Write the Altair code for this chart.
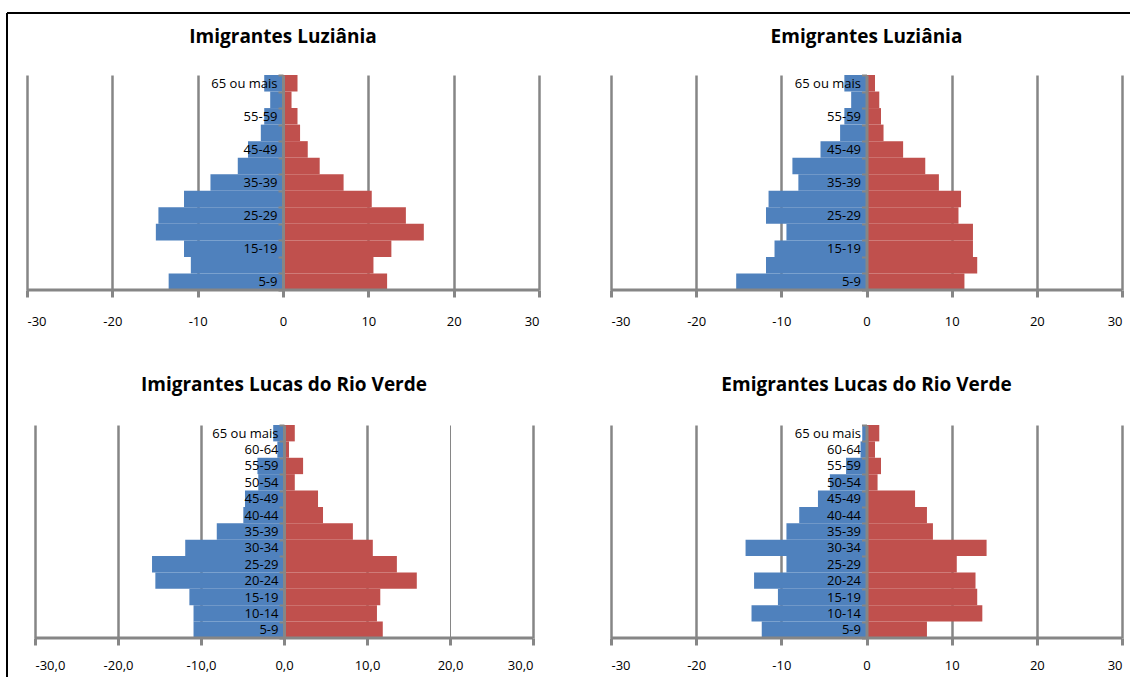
import altair as alt
import pandas as pd

ages = ["5-9", "10-14", "15-19", "20-24", "25-29", "30-34", "35-39",
        "40-44", "45-49", "50-54", "55-59", "60-64", "65 ou mais"]

imig_luz_blue = [-13.4, -10.8, -11.6, -14.9, -14.6, -11.6, -8.5, -5.3, -4.1, -2.6, -2.2, -1.5, -2.2]
imig_luz_red = [12.2, 10.6, 12.7, 16.5, 14.4, 10.4, 7.1, 4.3, 2.9, 2.0, 1.7, 1.0, 1.7]
emig_luz_blue = [-15.3, -11.8, -10.8, -9.4, -11.8, -11.5, -8.0, -8.7, -5.4, -3.1, -2.6, -1.8, -2.6]
emig_luz_red = [11.5, 13.0, 12.5, 12.5, 10.8, 11.1, 8.5, 6.9, 4.3, 2.0, 1.7, 1.5, 1.0]
imig_lrv_blue = [-10.9, -10.9, -11.4, -15.5, -15.9, -11.9, -8.1, -4.9, -4.7, -3.1, -3.2, -0.8, -1.3]
imig_lrv_red = [11.9, 11.2, 11.6, 16.0, 13.6, 10.7, 8.3, 4.7, 4.1, 1.3, 2.3, 0.6, 1.3]
emig_lrv_blue = [-12.3, -13.5, -10.4, -13.2, -9.4, -14.2, -9.4, -7.9, -5.7, -4.3, -2.4, -0.7, -0.5]
emig_lrv_red = [7.1, 13.6, 13.0, 12.8, 10.6, 14.1, 7.8, 7.1, 5.7, 1.3, 1.7, 1.0, 1.5]

titles = ["Imigrantes Luziânia", "Emigrantes Luziânia",
          "Imigrantes Lucas do Rio Verde", "Emigrantes Lucas do Rio Verde"]

x_ticks = [-30, -20, -10, 0, 10, 20, 30]
x_span = [-30, 30]
series = ["Homens", "Mulheres"]
colors = ["#4F81BD", "#C0504D"]

GRID = "#868686"
FONT = "Open Sans"


def panel(title, blue, red, width, height, alt_labels, decimal, label_pad, title_y,
          left_pad=0, thin20=False, extra_layers=()):
    df = pd.DataFrame({
        "idade": ages + ages,
        "valor": blue + red,
        "lado": [series[0]] * len(ages) + [series[1]] * len(ages),
    })
    shown = ages[::2] if alt_labels else ages
    shown_js = "[" + ",".join("'" + a + "'" for a in shown) + "]"
    y_label_expr = "indexof(" + shown_js + ", datum.value) >= 0 ? datum.value : ''"
    sign = "(datum.value < 0 ? '-' : '') + "
    if decimal:
        x_label_expr = sign + "replace(format(abs(datum.value), '.1f'), '.', ',')"
    else:
        x_label_expr = sign + "format(abs(datum.value), 'd')"
    grid_width = ({"condition": {"test": "datum.value === 20", "value": 1}, "value": 2.5}
                  if thin20 else 2.5)
    x_scale = alt.Scale(domain=x_span, nice=False, range=[left_pad, width])
    x_axis = alt.Axis(values=x_ticks, grid=True, gridColor=GRID, gridWidth=grid_width,
                      domain=False, tickColor=GRID, tickWidth=3,
                      tickSize=7, labelPadding=label_pad, labelFontSize=13,
                      labelColor="black", labelFont=FONT, title=None,
                      labelExpr=x_label_expr, zindex=0)
    zero_px = left_pad + (width - left_pad) / 2
    y_axis = alt.Axis(orient="left", offset=-zero_px, domainColor=GRID, domainWidth=3,
                      tickColor=GRID, tickWidth=2, tickSize=5, tickBand="extent",
                      labelExpr=y_label_expr, labelFontSize=13, labelColor="black",
                      labelFont=FONT, labelPadding=1, zindex=1, title=None, grid=False)
    bars = alt.Chart(df).mark_bar(strokeWidth=0).encode(
        x=alt.X("valor:Q", scale=x_scale, axis=x_axis),
        y=alt.Y("idade:N", sort=ages[::-1],
                scale=alt.Scale(paddingInner=0, paddingOuter=0), axis=y_axis),
        color=alt.Color("lado:N", scale=alt.Scale(domain=series, range=colors), legend=None),
    )
    axis_df = pd.DataFrame({"a": [x_span[0]], "b": [x_span[1]]})
    axis_line = alt.Chart(axis_df).mark_rule(color=GRID, strokeWidth=3).encode(
        x=alt.X("a:Q", scale=x_scale), x2="b:Q", y=alt.value(height))
    title_mark = alt.Chart(pd.DataFrame({"t": [title]})).mark_text(
        font=FONT, fontSize=19, fontWeight="bold", color="black",
        align="center", baseline="middle").encode(
        text="t:N", x=alt.value(zero_px), y=alt.value(title_y))
    return alt.layer(*extra_layers, bars, axis_line, title_mark).properties(
        width=width, height=height)


one = pd.DataFrame({"k": [0]})
frame_top = alt.Chart(one).mark_rule(color="black", strokeWidth=2).encode(
    x=alt.value(-20), x2=alt.value(1103), y=alt.value(-62))
frame_left = alt.Chart(one).mark_rule(color="black", strokeWidth=2).encode(
    x=alt.value(-20), y=alt.value(-62), y2=alt.value(602))

p1 = panel(titles[0], imig_luz_blue, imig_luz_red, 512, 215, True, False, 18, -38,
           extra_layers=(frame_top, frame_left))
p2 = panel(titles[1], emig_luz_blue, emig_luz_red, 511, 215, True, False, 18, -38)
p3 = panel(titles[2], imig_lrv_blue, imig_lrv_red, 506, 213, False, True, 14, -40,
           left_pad=8, thin20=True)
p4 = panel(titles[3], emig_lrv_blue, emig_lrv_red, 511, 213, False, False, 14, -40)

chart = alt.concat(p1, p2, p3, p4, columns=2, spacing={"row": 135, "column": 72},
                   bounds="flush").properties(
    padding={"left": 6, "top": 12, "right": 0, "bottom": 0},
    background="white",
).configure_view(stroke=None)

chart.save("out.html", embed_options={"renderer": "svg", "actions": False})
